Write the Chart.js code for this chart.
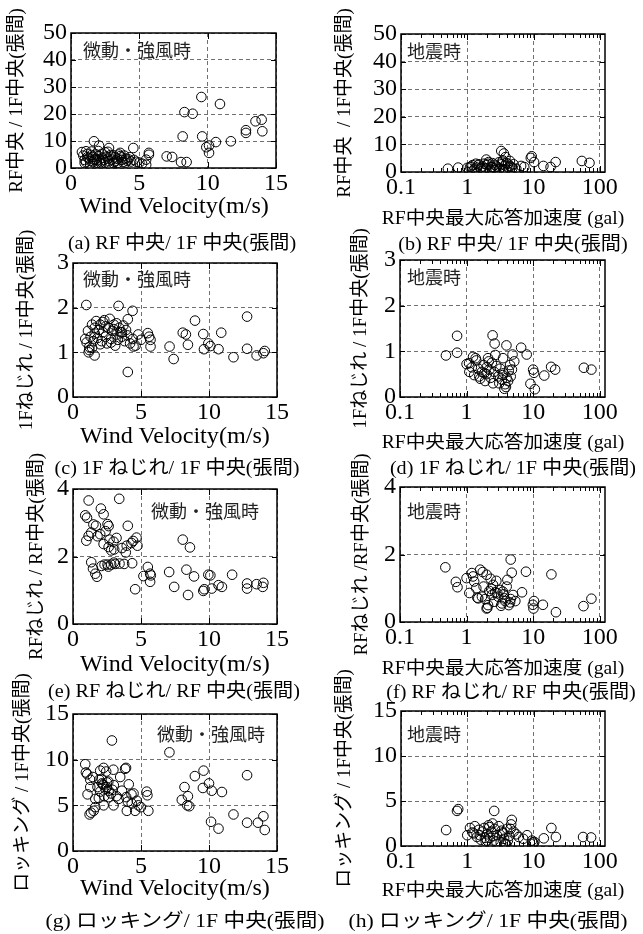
<!DOCTYPE html>
<html><head><meta charset="utf-8">
<script src="https://cdn.jsdelivr.net/npm/chart.js@4/dist/chart.umd.min.js"></script>
<style>
body{margin:0;background:#fff;width:643px;height:934px;position:relative;overflow:hidden}
canvas{position:absolute}
.t{position:absolute;white-space:nowrap;font-family:"Liberation Serif","Noto Sans CJK JP",serif;color:#000;line-height:1}
.ann{position:absolute;white-space:nowrap;font-family:"Noto Sans CJK JP",sans-serif;font-size:18px;color:#222;line-height:1;transform:translate(-50%,-50%)}
</style></head><body>
<script>
// ---------- data ----------
const windA = [0.8,0.9,1.0,1.1,1.2,1.3,1.4,1.5,1.6,1.7,1.8,1.9,2.0,2.1,2.2,2.3,2.4,2.5,2.6,2.7,2.8,2.9,3.0,3.1,3.2,3.3,3.4,3.5,3.6,3.7,3.8,3.9,4.0,4.1,4.2,4.4,4.6,4.8,5.0,5.2,
  1.0,1.2,1.4,1.6,1.8,2.0,2.2,2.5,2.8,3.1,3.4,3.7,4.0,4.3,1.1,1.5,1.9,2.3,2.7,3.2,3.6,
  1.68,2.05,2.78,4.56,5.7,5.7,5.5,5.5,7.0,7.4,8.05,8.46,8.3,8.9,8.17,9.54,9.6,9.9,10.1,10.1,10.6,10.9,11.7,12.8,12.8,13.5,13.95,14.0];
const ratioA = [5.9,4.6,3.0,2.2,5.2,3.6,2.6,6.1,4.1,3.0,5.0,2.0,4.4,3.2,2.4,5.3,3.0,2.0,4.2,3.5,2.5,4.8,3.1,1.8,4.0,2.7,3.4,5.0,4.4,3.0,2.2,4.6,3.5,2.7,3.2,2.4,3.0,2.3,2.0,1.6,
  1.8,4.0,1.4,2.2,3.4,6.3,1.7,5.8,1.5,4.7,1.9,3.9,2.0,4.0,6.2,4.8,2.8,3.8,6.0,2.3,5.6,
  9.9,8.3,7.4,7.4,5.6,4.9,3.1,1.2,4.3,4.1,2.2,2.2,20.7,20.1,11.7,26.3,11.7,7.7,8.3,5.6,9.6,23.7,9.9,14.0,13.0,17.3,17.9,13.6];

const accB = [0.51,0.73,1.1,1.3,1.46,1.94,2.06,3.26,3.57,3.78,3.45,4.1,4.6,6.5,7.25,9.1,9.4,10.2,14.1,18.1,21.6,53.7,70,
  1.0,1.15,1.25,1.4,1.5,1.6,1.7,1.8,1.9,2.0,2.2,2.3,2.4,2.5,2.6,2.7,2.8,3.0,3.1,3.3,3.5,3.7,3.9,4.2,4.4,4.8,5.0,5.5,1.2,1.6,2.1,2.6,3.0,3.4,3.8,4.4,2.4,1.35];
const ratioB = [1.2,1.6,1.8,1.2,2.4,4.5,3.0,7.6,6.7,5.4,4.2,3.0,1.8,2.2,1.8,5.1,5.7,3.6,2.2,1.8,3.6,4.0,3.3,
  1.5,2.0,0.8,1.6,2.8,1.0,2.0,3.0,1.4,2.5,0.9,1.8,3.2,1.2,2.6,0.8,2.0,3.5,1.3,2.8,1.0,2.4,3.2,1.6,2.2,1.4,2.8,1.2,2.5,1.4,3.6,0.6,0.9,3.8,0.7,4.0,1.8,3.0];

const windC = [0.9,1.0,1.1,1.2,1.3,1.4,1.5,1.6,1.7,1.8,1.9,2.0,2.1,2.2,2.3,2.4,2.5,2.6,2.7,2.8,2.9,3.0,3.1,3.2,3.3,3.4,3.5,3.6,3.7,3.8,3.9,4.0,4.2,4.4,4.6,4.8,5.0,1.2,1.6,2.0,2.4,2.8,3.2,3.6,1.4,2.2,3.0,
  0.98,3.35,4.38,4.03,4.03,1.59,1.15,5.5,5.6,5.7,5.7,4.45,7.1,7.4,8.07,8.3,8.45,8.97,9.58,9.63,9.95,10.1,10.7,10.9,11.8,12.8,12.8,13.5,14.0,14.1];
const ratioC = [1.30,1.22,1.48,1.12,1.35,1.62,1.25,1.55,1.70,1.32,1.50,1.62,1.25,1.45,1.72,1.35,1.20,1.55,1.75,1.30,1.48,1.62,1.15,1.40,1.28,1.55,1.45,1.35,1.60,1.25,1.50,1.38,1.20,1.30,1.15,1.40,1.28,1.05,1.42,1.18,1.58,1.22,1.65,1.45,1.10,1.68,1.52,
  2.06,2.04,1.93,1.74,0.56,0.93,1.0,1.43,1.35,1.28,1.13,1.13,1.13,0.85,1.44,1.40,1.17,1.71,1.41,1.07,1.2,1.14,1.07,1.44,0.89,1.8,1.08,0.93,0.98,1.03];

const accD = [1.0,1.1,1.2,1.3,1.4,1.5,1.6,1.7,1.8,1.9,2.0,2.1,2.2,2.3,2.4,2.5,2.6,2.8,3.0,3.2,3.4,3.6,3.8,4.0,4.2,4.5,4.8,5.2,1.25,1.55,1.85,2.15,2.7,3.1,3.5,3.9,4.3,2.0,3.7,4.6,
  0.49,0.72,0.72,1.09,1.37,2.46,2.64,3.97,3.53,4.9,6.6,8.0,10,10.3,9.1,10.6,14.7,18.6,21.4,57.8,75];
const ratioD = [0.72,0.55,0.65,0.48,0.80,0.62,0.40,0.55,0.70,0.35,0.50,0.85,0.60,0.42,0.75,0.30,0.55,0.68,0.45,0.62,0.38,0.52,0.28,0.42,0.35,0.70,0.60,0.78,0.88,0.45,0.52,0.78,0.92,0.30,0.48,0.22,0.58,0.65,0.18,0.45,
  0.91,0.97,1.34,0.74,0.85,1.35,1.17,1.13,0.85,0.93,1.08,0.93,0.6,0.53,0.29,0.17,0.47,0.66,0.6,0.64,0.6];

const windE = [1.15,3.4,0.9,1.03,2.05,2.25,2.54,2.62,4.03,1.69,0.98,1.15,1.34,2.0,2.25,2.69,2.98,2.81,3.03,2.62,3.95,3.88,4.3,4.42,4.67,4.74,1.8,2.4,3.2,3.6,1.5,
  1.34,1.47,1.64,1.76,2.32,2.54,2.81,3.1,3.42,3.76,4.35,2.1,2.6,3.0,
  4.57,5.18,5.5,5.67,5.72,5.67,7.07,7.44,8.07,8.6,8.34,8.46,8.9,9.58,9.65,9.95,10.1,10.2,10.7,10.95,11.7,12.8,12.8,13.5,13.95,14.0];
const ratioE = [3.66,3.71,3.22,3.15,3.42,3.25,2.96,2.9,2.91,2.91,2.47,2.61,2.71,2.66,2.37,2.5,2.44,2.18,2.21,2.28,2.32,2.12,2.4,2.46,2.56,2.32,2.6,2.75,2.55,2.25,2.95,
  1.83,1.64,1.49,1.40,1.76,1.76,1.76,1.78,1.79,1.78,1.80,1.72,1.70,1.82,
  1.03,1.42,1.69,1.49,1.44,1.25,1.54,1.1,2.5,2.27,1.61,0.86,1.41,0.98,1.03,1.46,1.44,1.05,1.15,1.1,1.46,1.2,1.05,1.18,1.1,1.22];

const accF = [1.0,1.1,1.2,1.3,1.4,1.5,1.6,1.7,1.8,1.9,2.0,2.1,2.2,2.3,2.4,2.5,2.6,2.7,2.8,3.0,3.2,3.4,3.6,3.8,4.0,4.3,4.6,5.0,5.4,1.25,1.45,1.75,2.05,2.35,2.9,3.3,3.7,4.1,4.5,2.0,3.5,
  0.48,0.69,0.73,4.6,4.77,7.8,18.8,6.8,9.9,10.1,10.3,14,22,57,75];
const ratioF = [1.30,0.86,1.45,1.20,1.00,0.70,1.55,0.75,1.05,0.68,1.40,0.50,0.92,1.28,0.80,1.10,0.60,0.88,1.22,0.75,0.95,0.55,0.82,0.62,1.05,0.50,0.68,0.80,0.62,1.35,0.72,1.48,0.42,0.98,0.85,0.48,0.70,1.25,0.58,0.40,0.90,
  1.62,1.19,1.03,1.85,1.46,1.49,1.41,0.88,0.51,0.40,0.62,0.51,0.29,0.47,0.69];

const windG = [2.86,7.09,0.9,0.95,1.05,1.27,1.46,2.0,2.25,2.44,2.97,3.83,3.9,3.47,1.93,2.13,2.25,2.49,2.62,1.07,1.27,1.64,1.64,1.52,1.32,1.22,2.25,2.62,2.98,3.35,3.91,4.03,3.96,4.32,4.45,4.69,4.81,4.99,5.42,5.47,5.54,4.57,
  1.8,2.0,2.2,2.4,2.6,2.8,3.0,3.2,2.1,2.5,2.9,3.6,4.1,4.3,1.9,2.3,
  8.2,8.0,8.45,8.4,8.55,8.96,9.6,9.55,10.0,10.2,10.95,10.15,10.7,11.8,12.8,12.8,13.6,14.0,14.1];
const ratioG = [12.1,10.8,9.5,8.6,8.4,7.8,8.1,8.8,9.1,8.7,8.9,9.0,9.1,8.1,7.8,7.4,7.2,7.0,6.6,6.2,7.0,5.7,4.8,4.4,4.2,4.0,5.0,5.9,5.0,5.7,5.9,5.4,4.4,5.2,6.3,5.5,5.0,4.8,6.5,6.1,4.4,4.4,
  7.0,6.5,7.3,6.8,7.6,6.3,7.2,6.0,7.9,7.5,6.7,6.6,7.3,6.2,5.8,6.0,
  7.0,5.6,6.0,5.0,4.9,8.2,8.8,6.9,7.4,6.6,6.46,3.2,2.45,4.0,8.3,3.1,3.1,3.8,2.3];

const accH = [0.48,0.7,0.73,2.55,4.7,18.6,21.8,14.3,56,74,9.8,10.0,10.3,9.5,
  1.0,1.1,1.2,1.3,1.4,1.5,1.6,1.7,1.8,1.9,2.0,2.1,2.2,2.3,2.4,2.5,2.6,2.8,3.0,3.2,3.4,3.6,3.8,4.0,4.3,4.6,5.0,5.5,6.0,7.0,8.0,1.25,1.55,1.85,2.15,2.45,2.75,3.3,3.7,4.1,4.5,2.0,3.5,3.9];
const ratioH = [1.77,3.9,4.1,3.9,2.9,2.0,1.0,0.85,1.0,0.95,0.4,0.25,0.45,0.6,
  1.2,2.0,1.5,2.2,1.0,1.8,0.7,1.6,2.0,0.5,1.3,2.3,0.9,1.6,2.5,0.6,1.9,1.2,2.2,0.4,1.5,0.8,0.2,1.9,1.1,2.4,1.6,1.3,1.0,0.8,1.2,1.4,1.2,0.9,2.1,1.1,0.5,1.7,0.3,0.6,1.9,0.6,1.4,0.15];

const windTicks = [0,5,10,15];
const accTicks = [0.1,1,10,100];
const yTicksA = [0,10,20,30,40,50];
const yTicksC = [0,1,2,3];
const yTicksE = [0,2,4];
const yTicksG = [0,5,10,15];

const yTitles = ['RF中央 / 1F中央(張間)','RF中央  / 1F中央(張間)','1Fねじれ / 1F中央(張間)','1Fねじれ / 1F中央(張間)',
  'RFねじれ / RF中央(張間)','RFねじれ /RF中央(張間)','ロッキング / 1F中央(張間)','ロッキング / 1F中央(張間)'];
const captions = ['(a) RF 中央/ 1F 中央(張間)','(b) RF 中央/ 1F 中央(張間)','(c) 1F ねじれ/ 1F 中央(張間)','(d) 1F ねじれ/ 1F 中央(張間)',
  '(e) RF ねじれ/ RF 中央(張間)','(f) RF ねじれ/ RF 中央(張間)','(g)  ロッキング/ 1F 中央(張間)','(h)  ロッキング/ 1F 中央(張間)'];
const windTitle = 'Wind Velocity(m/s)';
const accTitle = 'RF中央最大応答加速度 (gal)';
const labelWind = '微動・強風時';
const labelQuake = '地震時';

// ---------- layout ----------
const panels = [
  {xs:windA, ys:ratioA, log:false, yt:yTicksA, rect:[71,33,276,168], cl:0, cw:320, ytx:17, xty:205, cap:[182,242,1.06], ann:[137,49]},
  {xs:accB, ys:ratioB, log:true, yt:yTicksA, rect:[401,34,605,172], cl:320, cw:323, ytx:345, xty:218, cap:[513,243,1.06], ann:[434,50]},
  {xs:windC, ys:ratioC, log:false, yt:yTicksC, rect:[73,263,277,397], cl:0, cw:320, ytx:27, xty:435, cap:[177,467,1.06], ann:[137,278]},
  {xs:accD, ys:ratioD, log:true, yt:yTicksC, rect:[400,260,605,397], cl:320, cw:323, ytx:361, xty:442, cap:[513,467,1.06], ann:[434,276]},
  {xs:windE, ys:ratioE, log:false, yt:yTicksE, rect:[73,489,277,624], cl:0, cw:320, ytx:37, xty:663, cap:[174,690,1.06], ann:[205,510]},
  {xs:accF, ys:ratioF, log:true, yt:yTicksE, rect:[400,487,605,622], cl:320, cw:323, ytx:362, xty:668, cap:[511,691,1.06], ann:[434,510]},
  {xs:windG, ys:ratioG, log:false, yt:yTicksG, rect:[73,714,277,851], cl:0, cw:320, ytx:23, xty:887, cap:[185,920,1.14], ann:[211,733]},
  {xs:accH, ys:ratioH, log:true, yt:yTicksG, rect:[401,711,605,846], cl:320, cw:323, ytx:345, xty:890, cap:[488,920,1.14], ann:[434,733]}
];

const boxPlugin = {
  id:'box',
  afterDraw(chart, args, opts){
    const {ctx, chartArea:{left,top,right,bottom}, scales:{x,y}} = chart;
    ctx.save();
    ctx.setLineDash([]);
    ctx.strokeStyle = '#000';
    ctx.lineWidth = 1;
    ctx.beginPath();
    y.ticks.forEach(t=>{const p=Math.round(y.getPixelForValue(t.value))+0.5; ctx.moveTo(left,p); ctx.lineTo(left+5,p); ctx.moveTo(right,p); ctx.lineTo(right-5,p);});
    x.ticks.forEach(t=>{const p=Math.round(x.getPixelForValue(t.value))+0.5; ctx.moveTo(p,bottom); ctx.lineTo(p,bottom-6); ctx.moveTo(p,top); ctx.lineTo(p,top+6);});
    if (opts.log) {
      [0.1,1,10,100].forEach(d=>{for(let k=2;k<=9;k++){const v=d*k; if(v>=x.max) continue; const p=Math.round(x.getPixelForValue(v))+0.5; ctx.moveTo(p,bottom); ctx.lineTo(p,bottom-4); ctx.moveTo(p,top); ctx.lineTo(p,top+4);}});
    }
    ctx.stroke();
    ctx.lineWidth = 1.5;
    ctx.strokeRect(left, top, right-left, bottom-top);
    ctx.restore();
  }
};

const tickFont = {family:'"Liberation Serif", serif', size:24};

panels.forEach((p, i) => {
  const [l,t,r,b] = p.rect;
  const ct = Math.max(0, t - 50);
  const ch = b + 55 - ct;
  const cv = document.createElement('canvas');
  cv.width = p.cw; cv.height = ch;
  cv.style.left = p.cl + 'px'; cv.style.top = ct + 'px';
  cv.style.width = p.cw + 'px'; cv.style.height = ch + 'px';
  document.body.appendChild(cv);
  const titleSize = 19;
  new Chart(cv, {
    type: 'scatter',
    data: {datasets: [{
      data: p.xs.map((v, k) => ({x: v, y: p.ys[k]})),
      pointStyle: 'circle', pointRadius: 4.8, pointHoverRadius: 4.8,
      pointBorderWidth: 1, pointBorderColor: '#000', pointBackgroundColor: 'rgba(0,0,0,0)',
      showLine: false
    }]},
    options: {
      responsive: false, animation: false, devicePixelRatio: 1, events: [],
      layout: {padding: {left: 0, top: t - ct, right: p.cl + p.cw - r, bottom: 0}},
      plugins: {legend: {display: false}, tooltip: {enabled: false}, box: {log: p.log}},
      scales: {
        x: {
          type: p.log ? 'logarithmic' : 'linear',
          min: p.log ? 0.1 : 0, max: p.log ? 120 : 15,
          afterFit(s){ s.height = ch - (b - ct); },
          afterBuildTicks(s){ s.ticks = (p.log ? accTicks : windTicks).map(v => ({value: v})); },
          ticks: {font: tickFont, color: '#000', padding: 1, autoSkip: false, maxRotation: 0, callback: v => String(v)},
          grid: {color: '#707070', lineWidth: 1, drawTicks: false},
          border: {display: false, dash: [4, 3]}
        },
        y: {
          type: 'linear', min: 0, max: p.yt[p.yt.length - 1],
          afterFit(s){ s.width = l - p.cl; },
          afterBuildTicks(s){ s.ticks = p.yt.map(v => ({value: v})); },
          ticks: {font: tickFont, color: '#000', padding: 4, autoSkip: false, callback: v => String(v)},
          grid: {color: '#707070', lineWidth: 1, drawTicks: false},
          border: {display: false, dash: [4, 3]},
          title: {display: true, text: yTitles[i], color: '#000',
            font: {family: '"Liberation Serif", "Noto Sans CJK JP", serif', size: titleSize},
            padding: {top: p.ytx - p.cl - titleSize * 0.6, bottom: 0}}
        }
      }
    },
    plugins: [boxPlugin]
  });

  // x axis title
  const xt = document.createElement('div');
  xt.className = 't';
  xt.textContent = p.log ? accTitle : windTitle;
  xt.style.fontSize = p.log ? '18px' : '23px';
  xt.style.left = ((l + r) / 2) + 'px';
  xt.style.top = p.xty + 'px';
  xt.style.transform = 'translate(-50%,-50%) scaleX(' + (p.log ? 1.09 : 1.05) + ')';
  document.body.appendChild(xt);

  // caption
  const cp = document.createElement('div');
  cp.className = 't';
  cp.textContent = captions[i];
  cp.style.fontSize = '19px';
  cp.style.left = p.cap[0] + 'px';
  cp.style.top = p.cap[1] + 'px';
  cp.style.transform = 'translate(-50%,-50%) scaleX(' + p.cap[2] + ')';
  document.body.appendChild(cp);

  // annotation
  const an = document.createElement('div');
  an.className = 'ann';
  an.textContent = p.log ? labelQuake : labelWind;
  an.style.left = p.ann[0] + 'px';
  an.style.top = p.ann[1] + 'px';
  document.body.appendChild(an);
});
</script>
</body></html>
